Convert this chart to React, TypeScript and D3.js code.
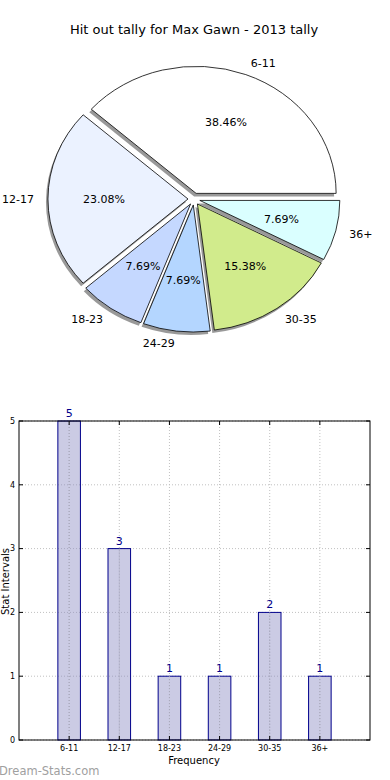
import React from "react";
import * as d3 from "d3";

const categories = ["6-11", "12-17", "18-23", "24-29", "30-35", "36+"];
const counts = [5, 3, 1, 1, 2, 1];
const sliceColors = ["#ffffff", "#ebf2ff", "#c5d8ff", "#b4d6ff", "#d1eb8c", "#daffff"];
const yTicks = [0, 1, 2, 3, 4, 5];

const W = 390;
const H = 780;
const FONT = "DejaVu Sans, sans-serif";

// pie geometry (matplotlib: no equal aspect, so it's an ellipse)
const cx = 194, cy = 199, rx = 140, ry = 127;
const explode = 6;

function PieChart() {
  const total = d3.sum(counts);
  // matplotlib starts at 3 o'clock and goes counterclockwise
  const pie = d3.pie<number>().sort(null).startAngle(Math.PI / 2).endAngle(Math.PI / 2 - 2 * Math.PI);
  const arcs = pie(counts);
  const arc = d3.arc<any>().innerRadius(0).outerRadius(1);

  return (
    <g>
      {arcs.map((a, i) => {
        const mid = (a.startAngle + a.endAngle) / 2;
        // d3 angle: 0 = up, clockwise; convert to math angle
        const th = Math.PI / 2 - mid;
        const ox = explode * Math.cos(th), oy = -explode * Math.sin(th);
        return (
          <path key={"s" + i} d={arc(a) as string}
            transform={`translate(${cx + ox - 2},${cy + oy + 3}) scale(${rx},${ry})`}
            fill="#000" fillOpacity={0.4} />
        );
      })}
      {arcs.map((a, i) => {
        const mid = (a.startAngle + a.endAngle) / 2;
        const th = Math.PI / 2 - mid;
        const ox = explode * Math.cos(th), oy = -explode * Math.sin(th);
        const px = cx + ox, py = cy + oy;
        const lx = px + 1.1 * rx * Math.cos(th), ly = py - 1.1 * ry * Math.sin(th);
        const tx = px + 0.6 * rx * Math.cos(th), ty = py - 0.6 * ry * Math.sin(th);
        const pct = ((counts[i] / total) * 100).toFixed(2) + "%";
        return (
          <g key={"w" + i}>
            <path d={arc(a) as string} transform={`translate(${px},${py}) scale(${rx},${ry})`}
              fill={sliceColors[i]} stroke="#000" vectorEffect="non-scaling-stroke"
              style={{ strokeWidth: 0.8 }} />
            <text x={lx} y={ly} dy="0.35em" fontSize={11} fontFamily={FONT}
              textAnchor={Math.cos(th) >= 0 ? "start" : "end"}>{categories[i]}</text>
            <text x={tx} y={ty} dy="0.35em" fontSize={11} fontFamily={FONT} textAnchor="middle">{pct}</text>
          </g>
        );
      })}
      <text x={194} y={34} textAnchor="middle" fontSize={13} fontFamily={FONT}>
        Hit out tally for Max Gawn - 2013 tally
      </text>
    </g>
  );
}

function BarChart() {
  const left = 19, right = 370, top = 421, bottom = 740;
  const x = d3.scaleLinear().domain([-1, 6]).range([left, right]);
  const y = d3.scaleLinear().domain([0, 5]).range([bottom, top]);
  const bw = x(0.45) - x(0);
  return (
    <g>
      {categories.map((c, i) => (
        <line key={"gx" + i} x1={x(i)} x2={x(i)} y1={top} y2={bottom} stroke="#c0c0c0" strokeDasharray="1,2" />
      ))}
      {yTicks.map((t) => (
        <line key={"gy" + t} x1={left} x2={right} y1={y(t)} y2={y(t)} stroke="#c0c0c0" strokeDasharray="1,2" />
      ))}
      {counts.map((v, i) => (
        <g key={"b" + i}>
          <rect x={x(i) - bw / 2} y={y(v)} width={bw} height={y(0) - y(v)} fill="#8c8cc4" fillOpacity={0.45}
            stroke="#00008b" strokeWidth={1} />
          <line x1={x(i)} x2={x(i)} y1={y(v)} y2={bottom} stroke="#a8a8b8" strokeDasharray="1,2" />
          <text x={x(i)} y={y(v) - 4} textAnchor="middle" fontSize={11} fill="#00008b" fontFamily={FONT}>{v}</text>
        </g>
      ))}
      <rect x={left} y={top} width={right - left} height={bottom - top} fill="none" stroke="#000" strokeWidth={1} />
      {yTicks.map((t) => (
        <g key={"ty" + t}>
          <line x1={left} x2={left + 4} y1={y(t)} y2={y(t)} stroke="#000" />
          <line x1={right - 4} x2={right} y1={y(t)} y2={y(t)} stroke="#000" />
          <text x={left - 4} y={y(t)} dy="0.35em" textAnchor="end" fontSize={8} fontFamily={FONT}>{t}</text>
        </g>
      ))}
      {categories.map((c, i) => (
        <g key={"tx" + i}>
          <line x1={x(i)} x2={x(i)} y1={bottom} y2={bottom - 4} stroke="#000" />
          <line x1={x(i)} x2={x(i)} y1={top} y2={top + 4} stroke="#000" />
          <text x={x(i)} y={bottom + 11} textAnchor="middle" fontSize={8} fontFamily={FONT}>{c}</text>
        </g>
      ))}
      <text x={194} y={764} textAnchor="middle" fontSize={10} fontFamily={FONT}>Frequency</text>
      <text transform={`translate(9,${(top + bottom) / 2 + 1}) rotate(-90)`} textAnchor="middle" fontSize={10}
        fontFamily={FONT}>Stat Intervals</text>
      <text x={-1} y={775} fontSize={11.5} fill="#a0a0a0" fontFamily={FONT}>Dream-Stats.com</text>
    </g>
  );
}

export default function App() {
  return (
    <svg width={W} height={H} style={{ position: "absolute", left: 0, top: 0, background: "#fff" }}>
      <PieChart />
      <BarChart />
    </svg>
  );
}
